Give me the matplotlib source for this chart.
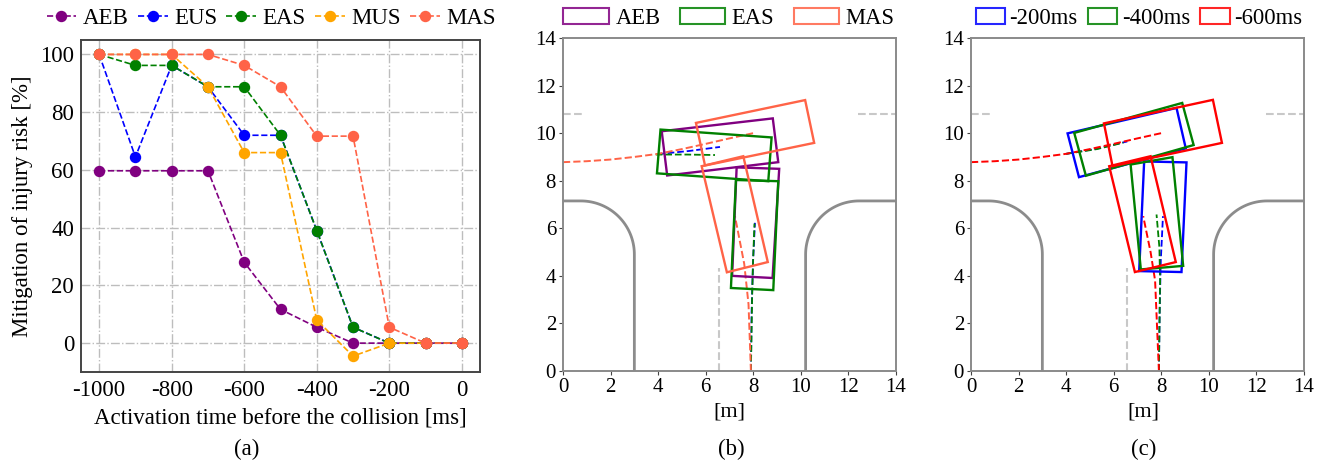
import matplotlib
matplotlib.use("Agg")
import matplotlib.pyplot as plt
from matplotlib.patches import Polygon, Patch
import numpy as np

plt.rcParams['font.family'] = ['Liberation Serif', 'DejaVu Serif']

W, H = 1327, 461

# ---------- panel (a) data ----------
times = [-1000, -900, -800, -700, -600, -500, -400, -300, -200, -100, 0]
aeb = [59.7, 59.7, 59.7, 59.7, 28, 11.7, 5.5, 0, 0, 0, 0]
eus = [100, 64.5, 96.2, 88.8, 72, 72, 39, 5.5, 0, 0, 0]
eas = [100, 96.2, 96.2, 88.8, 88.8, 72, 39, 5.5, 0, 0, 0]
mus = [100, 100, 100, 88.8, 66, 66, 8, -4.5, 0, 0, 0]
mas = [100, 100, 100, 100, 96.2, 88.8, 71.7, 71.7, 5.5, 0, 0]

C_AEB, C_EUS, C_EAS, C_MUS, C_MAS = 'purple', 'blue', 'green', 'orange', 'tomato'

# ---------- panel (b) data ----------
b_aeb_h = [(4.15, 10.08), (8.82, 10.62), (9.05, 8.78), (4.38, 8.22)]
b_aeb_v = [(7.30, 8.56), (9.09, 8.50), (8.81, 3.91), (7.11, 4.00)]
b_eas_h = [(4.10, 10.15), (8.77, 9.82), (8.63, 7.98), (3.95, 8.31)]
b_eas_v = [(7.27, 8.03), (9.05, 7.98), (8.84, 3.40), (7.06, 3.49)]
b_mas_h = [(5.59, 10.43), (10.18, 11.39), (10.56, 9.59), (5.97, 8.64)]
b_mas_v = [(5.83, 8.61), (7.58, 9.03), (8.61, 4.58), (6.89, 4.15)]

traj_h_x = [0, 1, 2, 3, 4, 5, 6, 7, 8.0]
traj_h_y = [8.78, 8.82, 8.89, 9.0, 9.13, 9.33, 9.55, 9.78, 10.0]
b_blue_h = ([4.0, 5.3, 6.6], [9.12, 9.25, 9.42])
b_green_h = ([3.9, 5.2, 6.39], [9.1, 9.1, 9.08])
b_blue_v = ([7.9, 7.93, 7.99, 8.07], [0, 2.5, 4.6, 6.23])
b_green_v = ([7.9, 7.95, 7.99, 8.05], [0, 3.1, 4.6, 6.2])
b_red_v = ([7.9, 7.8, 7.62, 7.23], [0, 2.8, 4.5, 6.51])

# ---------- panel (c) data ----------
c_200_h = [(4.06, 9.99), (8.64, 11.06), (9.03, 9.36), (4.54, 8.15)]
c_200_v = [(7.28, 8.81), (9.06, 8.77), (8.85, 4.16), (7.07, 4.20)]
c_400_h = [(4.34, 10.01), (8.88, 11.27), (9.36, 9.50), (4.83, 8.21)]
c_400_v = [(6.71, 8.68), (8.47, 8.99), (8.92, 4.42), (7.14, 4.27)]
c_600_h = [(5.59, 10.41), (10.17, 11.40), (10.55, 9.59), (5.95, 8.61)]
c_600_v = [(5.81, 8.61), (7.55, 9.03), (8.61, 4.58), (6.89, 4.16)]

c_blue_h = ([4.0, 5.3, 6.57], [9.13, 9.35, 9.65])
c_green_h = ([4.0, 5.3, 6.4], [9.13, 9.33, 9.6])
c_blue_v = ([7.9, 7.93, 7.98, 8.07], [0, 2.5, 4.66, 6.51])
c_green_v = ([7.9, 7.95, 7.92, 7.80], [0, 3.82, 5.2, 6.58])
c_red_v = ([7.9, 7.74, 7.55, 7.24], [0, 3.8, 5.0, 6.51])

# road geometry
curb_left_x = 3.0
curb_right_x = 10.2
curb_top_y = 7.15
curb_arc_r = 2.25
lane_y = 10.82
stop_x = 6.55
stop_top = 4.35


def axes_box(fig, l, t, r, b):
    return fig.add_axes([l / W, 1 - b / H, (r - l) / W, (b - t) / H])


fig = plt.figure(figsize=(W / 100, H / 100), dpi=100)

# ---------- (a) ----------
ax = axes_box(fig, 81, 40, 480, 372)
for vals, col, name in [(aeb, C_AEB, 'AEB'), (eus, C_EUS, 'EUS'), (eas, C_EAS, 'EAS'),
                        (mus, C_MUS, 'MUS'), (mas, C_MAS, 'MAS')]:
    ax.plot(times, vals, '--o', color=col, lw=1.2, ms=7.2, label=name, zorder=3)
ax.set_xlim(-1050, 50)
ax.set_ylim(-10, 105)
ax.set_xticks(range(-1000, 1, 200))
ax.set_xticklabels([str(t) for t in range(-1000, 1, 200)])
ax.set_yticks(range(0, 101, 20))
ax.grid(True, color='#bdbdbd', ls='-.', lw=1.0)
ax.tick_params(labelsize=16.5, length=0, pad=5)
ax.tick_params(axis='x', pad=6)
for s in ax.spines.values():
    s.set_color('#444444')
    s.set_linewidth(1.4)
ax.set_ylabel('Mitigation of injury risk [%]', fontsize=16.5, labelpad=5)
fig.text(280 / W, 1 - 418 / H, 'Activation time before the collision [ms]', fontsize=16.5,
         ha='center', va='center')
fig.text(247 / W, 1 - 449 / H, '(a)', fontsize=16.5, ha='center', va='center')
ax.legend(loc='lower center', bbox_to_anchor=(271 / W, 1 - 29 / H), bbox_transform=fig.transFigure,
          ncol=5, frameon=False, fontsize=16.5, handlelength=1.3, columnspacing=0.4,
          handletextpad=0.28, borderpad=0, borderaxespad=0)


def road(ax):
    theta = np.linspace(0, np.pi / 2, 40)
    cx = curb_left_x - curb_arc_r
    cy = curb_top_y - curb_arc_r
    lx = np.r_[curb_left_x, cx + curb_arc_r * np.cos(theta), 0]
    ly = np.r_[0, cy + curb_arc_r * np.sin(theta), curb_top_y]
    ax.plot(lx, ly, color='#8c8c8c', lw=2.0, zorder=1)
    rcx = curb_right_x + curb_arc_r
    rx = np.r_[curb_right_x, rcx - curb_arc_r * np.cos(theta), 14]
    ax.plot(rx, ly, color='#8c8c8c', lw=2.0, zorder=1)
    ax.plot([0, 0.8], [lane_y, lane_y], color='#c8c8c8', ls='--', lw=1.5, zorder=1)
    ax.plot([12.4, 14], [lane_y, lane_y], color='#c8c8c8', ls='--', lw=1.5, zorder=1)
    ax.plot([stop_x, stop_x], [0, stop_top], color='#c8c8c8', ls='--', lw=1.5, zorder=1)


def style_map(ax):
    ax.set_xlim(0, 14)
    ax.set_ylim(0, 14)
    ax.set_xticks(range(0, 15, 2))
    ax.set_yticks(range(0, 15, 2))
    ax.tick_params(labelsize=15, length=3, width=0.8, pad=2, color='#444444')
    for s in ax.spines.values():
        s.set_color('#8a8a8a')
        s.set_linewidth(1.4)


def box(ax, pts, col):
    ax.add_patch(Polygon(pts, closed=True, fill=False, edgecolor=col, lw=1.7, zorder=3))


def map_legend(ax, items, anchor_x, fs, hl, sp, pad):
    handles = [Patch(facecolor='none', edgecolor=c, lw=1.5, alpha=0.85, label=n) for n, c in items]
    ax.legend(handles=handles, loc='lower center', bbox_to_anchor=(anchor_x / W, 1 - 29 / H),
              bbox_transform=fig.transFigure, ncol=3, frameon=False, fontsize=fs,
              handlelength=hl, handleheight=0.72, columnspacing=sp, handletextpad=pad,
              borderpad=0, borderaxespad=0)


# ---------- (b) ----------
ax = axes_box(fig, 563, 38, 896, 371)
style_map(ax)
road(ax)
for pts, col in [(b_aeb_h, C_AEB), (b_aeb_v, C_AEB), (b_eas_h, C_EAS), (b_eas_v, C_EAS),
                 (b_mas_h, C_MAS), (b_mas_v, C_MAS)]:
    box(ax, pts, col)
ax.plot(*b_blue_h, color='blue', ls='--', lw=1.3, zorder=2)
ax.plot(*b_green_h, color='green', ls='--', lw=1.3, zorder=2)
ax.plot(*b_blue_v, color='blue', ls='--', lw=1.3, zorder=2)
ax.plot(*b_green_v, color='green', ls='--', lw=1.3, zorder=2)
ax.plot(traj_h_x, traj_h_y, color=C_MAS, ls='--', lw=1.4, zorder=2)
ax.plot(*b_red_v, color=C_MAS, ls='--', lw=1.4, zorder=2)
map_legend(ax, [('AEB', C_AEB), ('EAS', C_EAS), ('MAS', C_MAS)], 729, 16.3, 2.0, 0.85, 0.3)
fig.text(729 / W, 1 - 412 / H, '[m]', fontsize=16, ha='center', va='center')
fig.text(731 / W, 1 - 449 / H, '(b)', fontsize=16.5, ha='center', va='center')

# ---------- (c) ----------
ax = axes_box(fig, 971, 38, 1304, 371)
style_map(ax)
road(ax)
for pts, col in [(c_200_h, 'blue'), (c_200_v, 'blue'), (c_400_h, 'green'), (c_400_v, 'green'),
                 (c_600_h, 'red'), (c_600_v, 'red')]:
    box(ax, pts, col)
ax.plot(*c_blue_h, color='blue', ls='--', lw=1.3, zorder=2)
ax.plot(*c_green_h, color='green', ls='--', lw=1.3, zorder=2)
ax.plot(*c_blue_v, color='blue', ls='--', lw=1.3, zorder=2)
ax.plot(*c_green_v, color='green', ls='--', lw=1.3, zorder=2)
ax.plot(traj_h_x, traj_h_y, color='red', ls='--', lw=1.4, zorder=2)
ax.plot(*c_red_v, color='red', ls='--', lw=1.4, zorder=2)
map_legend(ax, [('-200ms', 'blue'), ('-400ms', 'green'), ('-600ms', 'red')], 1139, 16.3, 1.3, 0.45, 0.2)
fig.text(1143 / W, 1 - 412 / H, '[m]', fontsize=16, ha='center', va='center')
fig.text(1144 / W, 1 - 449 / H, '(c)', fontsize=16.5, ha='center', va='center')

fig.savefig('out.png', dpi=100)
